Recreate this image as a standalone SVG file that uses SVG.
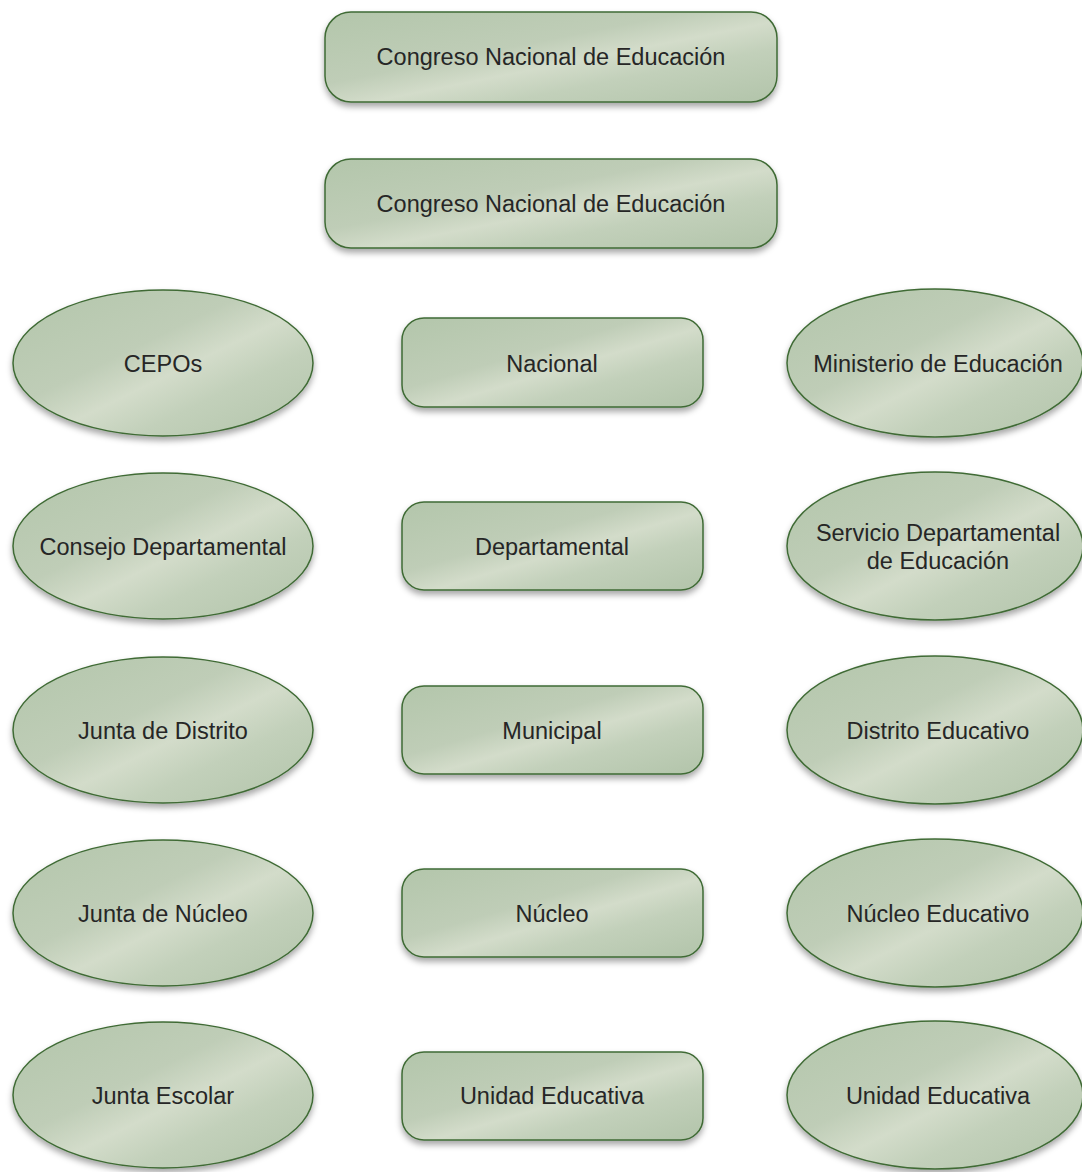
<svg xmlns="http://www.w3.org/2000/svg" width="1082" height="1172" viewBox="0 0 1082 1172">
<defs>
<linearGradient id="g" x1="0" y1="0" x2="1" y2="1">
<stop offset="0" stop-color="#b3c6ab"/>
<stop offset="0.4" stop-color="#bfcdb7"/>
<stop offset="0.55" stop-color="#d3dcca"/>
<stop offset="0.7" stop-color="#c2d0ba"/>
<stop offset="1" stop-color="#b2c4aa"/>
</linearGradient>
<filter id="sh" x="-10%" y="-20%" width="120%" height="150%">
<feDropShadow dx="0" dy="4" stdDeviation="3" flood-color="#000" flood-opacity="0.35"/>
</filter>
</defs>
<style>
.n{fill:url(#g);stroke:#3f6b35;stroke-width:1.5;filter:url(#sh)}
text{font-family:"Liberation Sans",Arial,sans-serif;font-size:23.5px;fill:#262626;text-anchor:middle}
</style>
<g id="connectors"></g>
<g id="congreso1"><rect class="n" x="325" y="12" width="452" height="90" rx="26"/><text x="551" y="65">Congreso Nacional de Educación</text></g>
<g id="congreso2"><rect class="n" x="325" y="159" width="452" height="89" rx="26"/><text x="551" y="212">Congreso Nacional de Educación</text></g>

<g id="cepos"><ellipse class="n" cx="163" cy="363" rx="150" ry="73"/><text x="163" y="372">CEPOs</text></g>
<g id="nacional"><rect class="n" x="402" y="318" width="301" height="89" rx="22"/><text x="552" y="372">Nacional</text></g>
<g id="ministerio"><ellipse class="n" cx="935" cy="363" rx="148" ry="74"/><text x="938" y="372">Ministerio de Educación</text></g>

<g id="consejo"><ellipse class="n" cx="163" cy="546" rx="150" ry="73"/><text x="163" y="555">Consejo Departamental</text></g>
<g id="departamental"><rect class="n" x="402" y="502" width="301" height="88" rx="22"/><text x="552" y="555">Departamental</text></g>
<g id="servicio"><ellipse class="n" cx="935" cy="546" rx="148" ry="74"/><text x="938" y="541">Servicio Departamental</text><text x="938" y="569">de Educación</text></g>

<g id="juntadistrito"><ellipse class="n" cx="163" cy="730" rx="150" ry="73"/><text x="163" y="739">Junta de Distrito</text></g>
<g id="municipal"><rect class="n" x="402" y="686" width="301" height="88" rx="22"/><text x="552" y="739">Municipal</text></g>
<g id="distrito"><ellipse class="n" cx="935" cy="730" rx="148" ry="74"/><text x="938" y="739">Distrito Educativo</text></g>

<g id="juntanucleo"><ellipse class="n" cx="163" cy="913" rx="150" ry="73"/><text x="163" y="922">Junta de Núcleo</text></g>
<g id="nucleo"><rect class="n" x="402" y="869" width="301" height="88" rx="22"/><text x="552" y="922">Núcleo</text></g>
<g id="nucleoedu"><ellipse class="n" cx="935" cy="913" rx="148" ry="74"/><text x="938" y="922">Núcleo Educativo</text></g>

<g id="juntaescolar"><ellipse class="n" cx="163" cy="1095" rx="150" ry="73"/><text x="163" y="1104">Junta Escolar</text></g>
<g id="unidad"><rect class="n" x="402" y="1052" width="301" height="88" rx="22"/><text x="552" y="1104">Unidad Educativa</text></g>
<g id="unidad2"><ellipse class="n" cx="935" cy="1095" rx="148" ry="74"/><text x="938" y="1104">Unidad Educativa</text></g>
</svg>
